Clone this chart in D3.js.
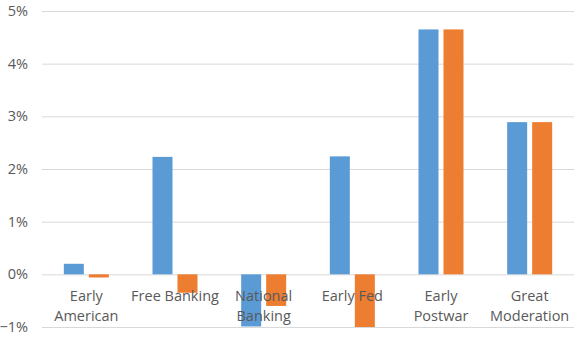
<!DOCTYPE html>
<html>
<head>
<meta charset="utf-8">
<script src="https://cdn.jsdelivr.net/npm/d3@7"></script>
<style>
  html, body { margin: 0; padding: 0; background: #fff; }
  svg { display: block; font-family: "Open Sans", "Noto Sans", sans-serif; }
</style>
</head>
<body>
<svg id="chart" width="584" height="338"></svg>
<script>
// Eras (each label split into its display lines)
const categories = ["Early American", "Free Banking", "National Banking", "Early Fed", "Early Postwar", "Great Moderation"];
const categoryLines = [["Early", "American"], ["Free Banking"], ["National", "Banking"], ["Early Fed"], ["Early", "Postwar"], ["Great", "Moderation"]];
const seriesNames = ["Series 1", "Series 2"];
const series1 = [0.0020, 0.0223, -0.0099, 0.0224, 0.0465, 0.0289];
const series2 = [-0.0006, -0.0035, -0.0060, -0.0100, 0.0465, 0.0289];
const yTicks = [-0.01, 0, 0.01, 0.02, 0.03, 0.04, 0.05];
const colors = ["#5B9BD5", "#ED7D31"];

const svg = d3.select("#chart");
const plot = { left: 42, right: 574, top: 11, bottom: 327 };
const fontSize = "14.5px";

const y = d3.scaleLinear().domain([-0.01, 0.05]).range([plot.bottom, plot.top]);
const x0 = d3.scaleBand().domain(categories).range([plot.left, plot.right]).padding(0);
const bw = x0.bandwidth();
const groupW = 45;
const x1 = d3.scaleBand().domain(seriesNames)
  .range([(bw - groupW) / 2, (bw + groupW) / 2]).paddingInner(0.2);

// Gridlines and percent tick labels
const yAxis = d3.axisLeft(y).tickValues(yTicks).tickSize(-(plot.right - plot.left))
  .tickFormat(d3.format(".0%")).tickPadding(14);
const ga = svg.append("g").attr("transform", `translate(${plot.left},0)`).call(yAxis);
ga.select(".domain").remove();
ga.selectAll(".tick line").attr("stroke", "#d9d9d9").attr("stroke-width", 1);
ga.selectAll(".tick text").attr("fill", "#595959").style("font-size", fontSize)
  .style("font-family", "'Open Sans', sans-serif");

// Bars
const rows = categories.map((c, i) => ({ c, vals: [series1[i], series2[i]] }));
const groups = svg.append("g").selectAll("g").data(rows).join("g")
  .attr("transform", d => `translate(${x0(d.c)},0)`);
groups.selectAll("rect").data(d => d.vals.map((v, k) => ({ v, k })))
  .join("rect")
  .attr("x", d => x1(seriesNames[d.k]))
  .attr("width", x1.bandwidth())
  .attr("y", d => y(Math.max(0, d.v)))
  .attr("height", d => Math.abs(y(d.v) - y(0)))
  .attr("fill", d => colors[d.k]);

// Category labels, drawn over the bars
const labels = svg.append("g").selectAll("text").data(categories).join("text")
  .attr("text-anchor", "middle")
  .attr("fill", "#595959")
  .style("font-size", fontSize)
  .attr("x", d => x0(d) + bw / 2)
  .attr("y", 301);
labels.selectAll("tspan").data((d, i) => categoryLines[i]).join("tspan")
  .attr("x", function() { return this.parentNode.getAttribute("x"); })
  .attr("dy", (d, j) => j === 0 ? 0 : 20)
  .text(d => d);
</script>
</body>
</html>
